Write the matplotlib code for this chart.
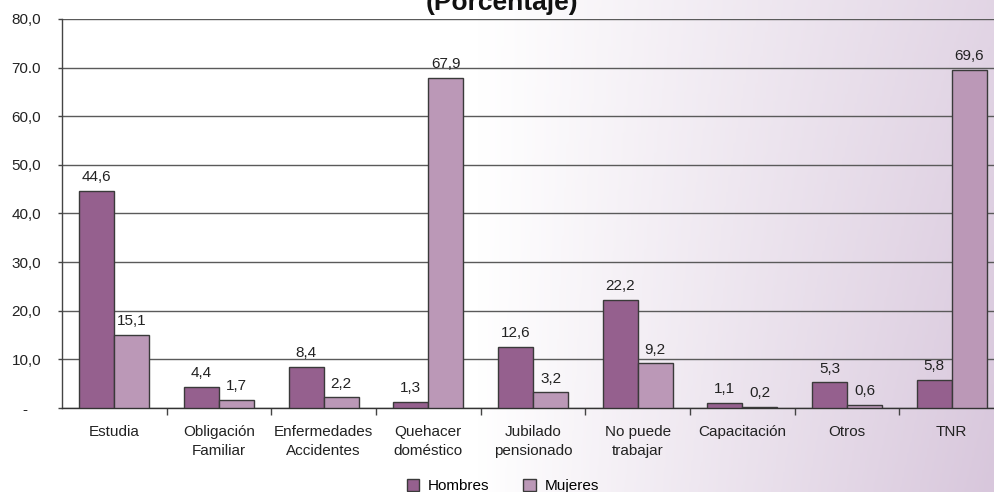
import numpy as np
import matplotlib
matplotlib.use("Agg")
import matplotlib.pyplot as plt
from matplotlib.colors import LinearSegmentedColormap
from matplotlib.patches import Patch

plt.rcParams['font.family'] = ['Liberation Sans', 'DejaVu Sans']

categories = ["Estudia", "Obligación\nFamiliar", "Enfermedades\nAccidentes",
              "Quehacer\ndoméstico", "Jubilado\npensionado", "No puede\ntrabajar",
              "Capacitación", "Otros", "TNR"]
hombres = [44.6, 4.4, 8.4, 1.3, 12.6, 22.2, 1.1, 5.3, 5.8]
mujeres = [15.1, 1.7, 2.2, 67.9, 3.2, 9.2, 0.2, 0.6, 69.6]
ytick_values = [0, 10, 20, 30, 40, 50, 60, 70, 80]
ytick_labels = ["-   ", "10,0", "20,0", "30,0", "40,0", "50,0", "60,0", "70.0", "80,0"]

col_h = "#95608e"
col_m = "#bb98b7"
edge = "#3a3a3a"

fig = plt.figure(figsize=(9.94, 4.92), dpi=100)

# background wash: white on the left fading to lilac on the right
bg = fig.add_axes([0, 0, 1, 1], zorder=-10)
xx, yy = np.meshgrid(np.linspace(0, 1, 400), np.linspace(0, 1, 200))
t = np.clip((xx - 0.48) / 0.52, 0, 1) * (0.75 + 0.25 * yy)
cmap = LinearSegmentedColormap.from_list("wash", ["#ffffff", "#d8c7dc"])
bg.imshow(t, cmap=cmap, vmin=0, vmax=1, aspect="auto", extent=[0, 1, 1, 0])
bg.set_axis_off()

ax = fig.add_axes([62 / 994, 1 - 408 / 492, 942 / 994, 389 / 492])
ax.set_facecolor("none")

x = np.arange(len(categories))
w = 0.335
bh = ax.bar(x - w / 2, hombres, w, color=col_h, edgecolor=edge, linewidth=1.0, zorder=3)
bm = ax.bar(x + w / 2, mujeres, w, color=col_m, edgecolor=edge, linewidth=1.0, zorder=3)

def fmt(v):
    return f"{v:.1f}".replace(".", ",")

for bars, vals in ((bh, hombres), (bm, mujeres)):
    for b, v in zip(bars, vals):
        ax.annotate(fmt(v), (b.get_x() + b.get_width() / 2, v),
                    xytext=(0, 7), textcoords="offset points",
                    ha="center", va="baseline", fontsize=11, color="#222222")

ax.set_xlim(-0.5, len(categories) - 0.5)
ax.set_ylim(0, 80)
ax.set_yticks(ytick_values)
ax.set_yticklabels(ytick_labels, fontsize=11)
ax.yaxis.grid(True, color="#5a5a5a", linewidth=1.0, zorder=0)
ax.set_axisbelow(True)

ax.set_xticks(x)
ax.set_xticklabels(categories, fontsize=11, linespacing=1.45)
ax.set_xticks(np.arange(0.5, len(categories) - 0.5, 1), minor=True)
ax.tick_params(axis="x", which="major", length=0, pad=12.5, colors="#222222")
ax.tick_params(axis="x", which="minor", length=5, width=1, color="#444444")
ax.tick_params(axis="y", length=3, width=1, pad=12, colors="#222222", color="#444444")

for s in ("top", "right"):
    ax.spines[s].set_visible(False)
ax.spines["left"].set_color("#444444")
ax.spines["bottom"].set_color("#333333")
ax.spines["left"].set_linewidth(1.0)
ax.spines["bottom"].set_linewidth(1.0)

fig.text(0.505, 1 - 10 / 492, "(Porcentaje)", ha="center", va="baseline",
         fontsize=19, fontweight="bold", color="#111111")

handles = [Patch(facecolor=col_h, edgecolor=edge, label="Hombres"),
           Patch(facecolor=col_m, edgecolor=edge, label="Mujeres")]
fig.legend(handles=handles, loc="center", bbox_to_anchor=(0.506, 0.012), ncol=2,
           frameon=False, fontsize=11, handlelength=0.8, handleheight=0.8,
           handletextpad=0.6, columnspacing=2.2, borderpad=0)

fig.savefig("out.png", dpi=100)
